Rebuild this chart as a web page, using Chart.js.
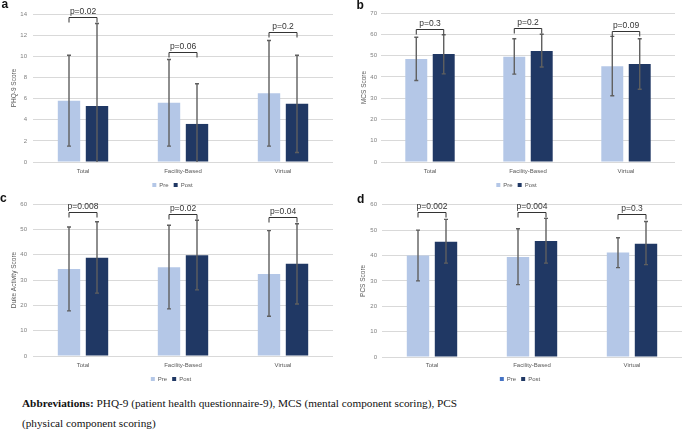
<!DOCTYPE html>
<html>
<head>
<meta charset="utf-8">
<script src="https://cdn.jsdelivr.net/npm/chart.js"></script>
<style>
  body { margin: 0; background: #fff; width: 684px; height: 433px; overflow: hidden; position: relative; }
  canvas { position: absolute; }
  .tag { position: absolute; font: bold 12px "Liberation Sans", Arial, sans-serif; line-height: 12px; color: #111; }
  .note { position: absolute; left: 22px; top: 393px; margin: 0; font: 11.25px "Liberation Serif", "Times New Roman", serif; line-height: 20px; color: #111; }
</style>
</head>
<body>
<canvas id="chartA" width="342" height="198" style="left:0;top:0"></canvas>
<canvas id="chartB" width="342" height="198" style="left:342px;top:0"></canvas>
<canvas id="chartC" width="342" height="202" style="left:0;top:190px"></canvas>
<canvas id="chartD" width="342" height="202" style="left:342px;top:190px"></canvas>
<div class="tag" style="left:1.5px;top:-2.5px">a</div>
<div class="tag" style="left:356.5px;top:-1.5px">b</div>
<div class="tag" style="left:0;top:191.5px">c</div>
<div class="tag" style="left:357px;top:192.5px">d</div>
<p class="note"><b>Abbreviations:</b> PHQ-9 (patient health questionnaire-9), MCS (mental component scoring), PCS<br>(physical component scoring)</p>
<script>
var groups = ['Total', 'Facility-Based', 'Virtual'];

// a - PHQ-9
var phqPre = [5.8, 5.6, 6.5];
var phqPost = [5.3, 3.6, 5.5];
var phqPreLow = [1.5, 1.5, 1.5];
var phqPreHigh = [10.1, 9.7, 11.5];
var phqPostLow = [0, 0, 0.9];
var phqPostHigh = [13.1, 7.4, 10.1];
var phqP = ['p=0.02', 'p=0.06', 'p=0.2'];
var phqBracket = [13.7, 10.4, 12.3];

// b - MCS
var mcsPre = [48.4, 49.4, 45.0];
var mcsPost = [50.7, 52.1, 46.0];
var mcsPreLow = [38.3, 41.3, 31.1];
var mcsPreHigh = [58.6, 57.9, 59.0];
var mcsPostLow = [41.4, 44.6, 34.2];
var mcsPostHigh = [59.8, 60.0, 57.9];
var mcsP = ['p=0.3', 'p=0.2', 'p=0.09'];
var mcsBracket = [62.6, 62.9, 61.7];

// c - Duke Activity
var dukePre = [34.3, 35.0, 32.4];
var dukePost = [38.8, 39.8, 36.4];
var dukePreLow = [17.8, 18.6, 15.7];
var dukePreHigh = [50.9, 51.6, 49.5];
var dukePostLow = [24.8, 26.1, 20.5];
var dukePostHigh = [53.0, 53.6, 52.2];
var dukeP = ['p=0.008', 'p=0.02', 'p=0.04'];
var dukeBracket = [56.8, 55.9, 54.7];

// d - PCS
var pcsPre = [40.0, 39.4, 41.2];
var pcsPost = [45.4, 45.7, 44.6];
var pcsPreLow = [30.0, 28.5, 35.2];
var pcsPreHigh = [50.0, 50.5, 47.0];
var pcsPostLow = [37.0, 37.0, 36.4];
var pcsPostHigh = [54.2, 54.6, 53.4];
var pcsP = ['p=0.002', 'p=0.004', 'p=0.3'];
var pcsBracket = [57.1, 57.2, 56.2];

var preColor = '#b4c7e7';
var postColor = '#203864';
var font = '"Liberation Sans", Arial, sans-serif';

// error bars + p-value brackets
var extras = {
    id: 'extras',
    afterDatasetsDraw: function (chart, args, opts) {
        var ctx = chart.ctx;
        var y = chart.scales.y;
        ctx.save();
        ctx.strokeStyle = '#5f5f5f';
        ctx.lineWidth = 1.4;
        for (var d = 0; d < 2; d++) {
            var meta = chart.getDatasetMeta(d);
            meta.data.forEach(function (bar, i) {
                var top = y.getPixelForValue(opts.high[d][i]);
                var bot = y.getPixelForValue(opts.low[d][i]);
                ctx.beginPath();
                ctx.moveTo(bar.x, top);
                ctx.lineTo(bar.x, bot);
                ctx.moveTo(bar.x - 2, top);
                ctx.lineTo(bar.x + 2, top);
                if (opts.low[d][i] > 0) {
                    ctx.moveTo(bar.x - 2, bot);
                    ctx.lineTo(bar.x + 2, bot);
                }
                ctx.stroke();
            });
        }
        var m0 = chart.getDatasetMeta(0), m1 = chart.getDatasetMeta(1);
        ctx.strokeStyle = '#333';
        ctx.lineWidth = 1;
        ctx.fillStyle = '#333';
        ctx.font = '8.5px ' + font;
        ctx.textAlign = 'center';
        ctx.textBaseline = 'middle';
        opts.bracket.forEach(function (v, i) {
            var x1 = m0.data[i].x, x2 = m1.data[i].x;
            var by = Math.round(y.getPixelForValue(v)) + 0.5;
            ctx.beginPath();
            ctx.moveTo(x1, by + 5);
            ctx.lineTo(x1, by);
            ctx.lineTo(x2, by);
            ctx.lineTo(x2, by + 5);
            ctx.stroke();
            ctx.fillText(opts.text[i], (x1 + x2) / 2, by - 6);
        });
        ctx.restore();
    }
};

function makePanel(id, p) {
    new Chart(document.getElementById(id), {
        type: 'bar',
        data: {
            labels: groups,
            datasets: [
                { label: 'Pre', data: p.pre, backgroundColor: preColor },
                { label: 'Post', data: p.post, backgroundColor: postColor }
            ]
        },
        plugins: [extras],
        options: {
            responsive: false,
            animation: false,
            devicePixelRatio: 1,
            layout: { padding: { left: p.padLeft, right: p.right, top: p.top, bottom: 0 } },
            datasets: { bar: { categoryPercentage: 0.56, barPercentage: 0.8 } },
            scales: {
                x: {
                    grid: { display: false, drawTicks: false },
                    border: { display: false },
                    ticks: { font: { family: font, size: 6 }, color: '#595959', padding: p.xPad },
                    afterFit: function (s) { s.height = p.xh; }
                },
                y: {
                    min: 0,
                    max: p.max,
                    ticks: { stepSize: p.step, font: { family: font, size: 6 }, color: '#808080', padding: p.tickPad },
                    grid: { color: '#d9d9d9', drawTicks: false },
                    border: { display: false },
                    title: { display: true, text: p.title, font: { family: font, size: 6.5 }, color: '#595959', padding: { top: p.titlePad, bottom: 0 } },
                    afterFit: function (s) { s.width = p.left - p.padLeft; }
                }
            },
            plugins: {
                tooltip: { enabled: false },
                legend: {
                    position: 'bottom',
                    labels: {
                        boxWidth: 4,
                        boxHeight: 4,
                        padding: 5,
                        color: '#595959',
                        font: { family: font, size: 6 },
                        generateLabels: function (chart) {
                            var items = Chart.defaults.plugins.legend.labels.generateLabels(chart);
                            if (p.legendPre) items[0].fillStyle = p.legendPre;
                            items.forEach(function (it) { it.lineWidth = 0; });
                            return items;
                        }
                    }
                },
                extras: {
                    low: [p.preLow, p.postLow],
                    high: [p.preHigh, p.postHigh],
                    bracket: p.bracket,
                    text: p.text
                }
            }
        }
    });
}

makePanel('chartA', {
    pre: phqPre, post: phqPost, preLow: phqPreLow, preHigh: phqPreHigh,
    postLow: phqPostLow, postHigh: phqPostHigh, bracket: phqBracket, text: phqP,
    max: 14, step: 2, title: 'PHQ-9 Score',
    padLeft: 12, left: 33, right: 9, top: 14, xh: 15, xPad: 5.4, tickPad: 6, titlePad: -1.9
});
makePanel('chartB', {
    pre: mcsPre, post: mcsPost, preLow: mcsPreLow, preHigh: mcsPreHigh,
    postLow: mcsPostLow, postHigh: mcsPostHigh, bracket: mcsBracket, text: mcsP,
    max: 70, step: 10, title: 'MCS Score',
    padLeft: 16, left: 39, right: 9, top: 13, xh: 15, xPad: 5.4, tickPad: 4, titlePad: 2.1
});
makePanel('chartC', {
    pre: dukePre, post: dukePost, preLow: dukePreLow, preHigh: dukePreHigh,
    postLow: dukePostLow, postHigh: dukePostHigh, bracket: dukeBracket, text: dukeP,
    max: 60, step: 10, title: 'Duke Activity Score',
    padLeft: 9, left: 33, right: 9, top: 14, xh: 15, xPad: 6.1, tickPad: 6, titlePad: 1.1
});
makePanel('chartD', {
    pre: pcsPre, post: pcsPost, preLow: pcsPreLow, preHigh: pcsPreHigh,
    postLow: pcsPostLow, postHigh: pcsPostHigh, bracket: pcsBracket, text: pcsP,
    max: 60, step: 10, title: 'PCS Score', legendPre: '#4472c4',
    padLeft: 16, left: 40, right: 2, top: 14.7, xh: 14, xPad: 5.1, tickPad: 5, titlePad: 1.1
});
</script>
</body>
</html>
